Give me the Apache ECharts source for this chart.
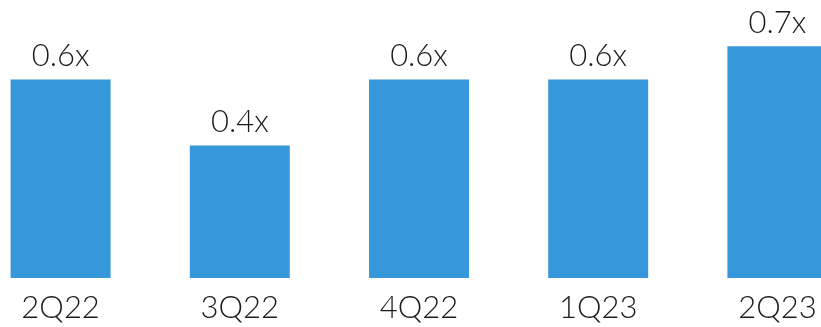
<!DOCTYPE html>
<html><head><meta charset="utf-8">
<script src="https://cdn.jsdelivr.net/npm/echarts@6/dist/echarts.min.js"></script>
<style>html,body{margin:0;padding:0;background:#fff}#c{width:821px;height:327px}</style>
</head><body><div id="c"></div>
<script>
const categories = ['2Q22', '3Q22', '4Q22', '1Q23', '2Q23'];
const values = [0.6, 0.4, 0.6, 0.6, 0.7];
const valueLabels = ['0.6x', '0.4x', '0.6x', '0.6x', '0.7x'];

const chart = echarts.init(document.getElementById('c'), null, {renderer: 'canvas'});
const font = 'Lato, "Liberation Sans", sans-serif';
chart.setOption({
  animation: false,
  grid: {left: -29, width: 896, top: 0, bottom: 49, containLabel: false, outerBoundsMode: 'none'},
  xAxis: {
    type: 'category', data: categories,
    axisLine: {show: false}, axisTick: {show: false}, splitLine: {show: false},
    axisLabel: {color: '#1a1a1a', fontSize: 31, fontFamily: font, fontWeight: 300, margin: 14}
  },
  yAxis: {type: 'value', min: 0, max: 0.84, show: false, splitLine: {show: false}},
  series: [{
    type: 'bar', data: values, barWidth: 100,
    itemStyle: {color: '#3698DB'},
    label: {
      show: true, position: 'top', distance: 8,
      color: '#1a1a1a', fontSize: 31, fontFamily: font, fontWeight: 300,
      formatter: p => valueLabels[p.dataIndex]
    }
  }]
});
</script></body></html>
